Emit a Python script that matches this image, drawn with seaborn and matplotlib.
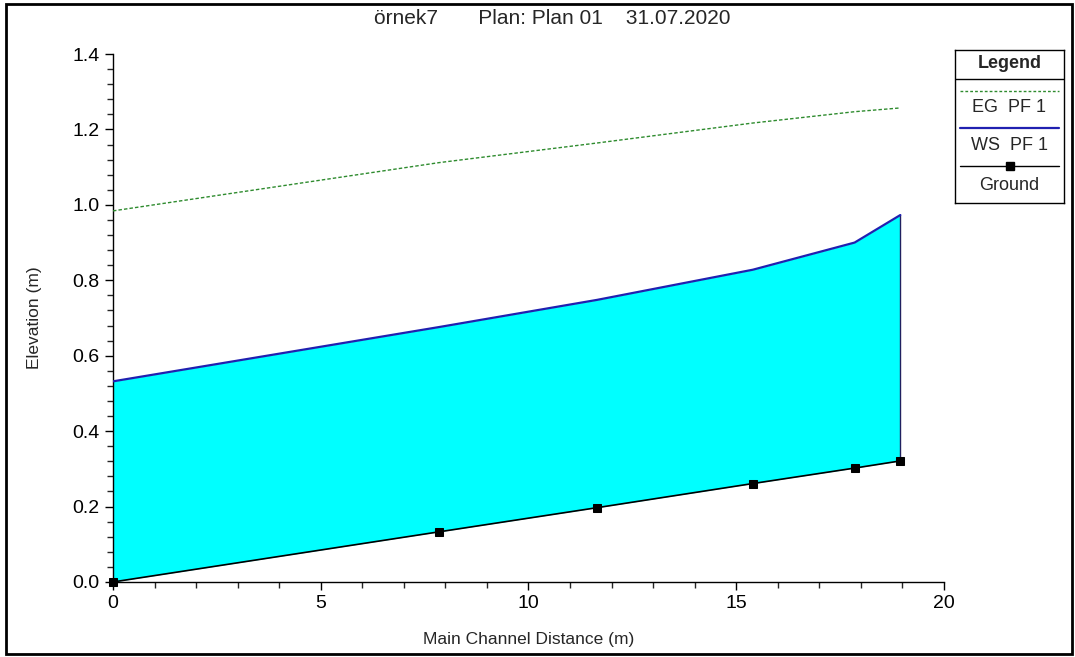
import numpy as np
import pandas as pd
import seaborn as sns
import matplotlib.pyplot as plt
from matplotlib.lines import Line2D
from matplotlib.patches import Rectangle
from matplotlib.ticker import MultipleLocator

# reach stations and profile values
distance = [0.0, 7.85, 11.65, 15.4, 17.85, 18.95]
ground = [0.0, 0.133, 0.197, 0.261, 0.302, 0.321]
ws_pf1 = [0.532, 0.676, 0.748, 0.828, 0.900, 0.973]
eg_pf1 = [0.984, 1.112, 1.164, 1.217, 1.247, 1.257]

title = "örnek7       Plan: Plan 01    31.07.2020"
legend_labels = ["EG  PF 1", "WS  PF 1", "Ground"]

df = pd.DataFrame({"dist": distance, "ground": ground, "ws": ws_pf1, "eg": eg_pf1})

sns.set_theme(style="ticks")
plt.rcParams['font.family'] = ['Liberation Sans', 'DejaVu Sans']

fig = plt.figure(figsize=(10.75, 6.57), dpi=100)
ax = fig.add_axes([0.1051, 0.1142, 0.7730, 0.8036])

# water area between ground and water surface
ax.fill_between(df["dist"], df["ground"], df["ws"], color="#00ffff", lw=0, zorder=1)
ax.plot([distance[-1], distance[-1]], [ground[-1], ws_pf1[-1]], color="#202060", lw=1, zorder=2)

sns.lineplot(data=df, x="dist", y="eg", ax=ax, color="#2e8b2e", lw=1,
             linestyle=(0, (2.5, 1.5)), zorder=3)
sns.lineplot(data=df, x="dist", y="ws", ax=ax, color="#2020b0", lw=1.6, zorder=3)
sns.lineplot(data=df, x="dist", y="ground", ax=ax, color="black", lw=1.2,
             marker="s", markersize=6, markeredgecolor="black", zorder=4, clip_on=False)

ax.set_xlim(0, 20)
ax.set_ylim(0, 1.4)
ax.xaxis.set_major_locator(MultipleLocator(5))
ax.xaxis.set_minor_locator(MultipleLocator(1))
ax.yaxis.set_major_locator(MultipleLocator(0.2))
ax.yaxis.set_minor_locator(MultipleLocator(0.04))
ax.yaxis.set_major_formatter(plt.FormatStrFormatter("%.1f"))
ax.tick_params(which="major", length=6, width=1, labelsize=14, colors="black")
ax.tick_params(which="minor", length=4, width=1)
for s in ["top", "right"]:
    ax.spines[s].set_visible(False)
for s in ["left", "bottom"]:
    ax.spines[s].set_color("black")
    ax.spines[s].set_linewidth(1)
ax.set_xlabel("Main Channel Distance (m)", fontsize=12.5, labelpad=14)
ax.set_ylabel("Elevation (m)", fontsize=12.5, labelpad=22)
ax.set_facecolor("white")
fig.text(0.514, 0.972, title, ha="center", va="center", fontsize=15)

# figure border
fig.patches.append(Rectangle((0.006, 0.005), 0.991, 0.989, transform=fig.transFigure,
                             fill=False, ec="black", lw=2))

# legend box drawn like the HEC-RAS style
lax = fig.add_axes([955 / 1075, 1 - 203 / 657, 109 / 1075, 153 / 657])
lax.set_xlim(0, 1)
lax.set_ylim(203, 50)
lax.set_xticks([])
lax.set_yticks([])
for s in lax.spines.values():
    s.set_color("black")
    s.set_linewidth(1)
lax.text(0.5, 64, "Legend", ha="center", va="center", fontsize=13, fontweight="bold")
lax.axhline(79, color="black", lw=1)
lax.add_line(Line2D([0.05, 0.95], [91, 91], color="#2e8b2e", lw=1, linestyle=(0, (2, 1.5))))
lax.text(0.5, 108, legend_labels[0], ha="center", va="center", fontsize=13)
lax.add_line(Line2D([0.05, 0.95], [128, 128], color="#2020b0", lw=1.6))
lax.text(0.5, 146, legend_labels[1], ha="center", va="center", fontsize=13)
lax.add_line(Line2D([0.05, 0.95], [166, 166], color="black", lw=1))
lax.add_line(Line2D([0.5], [166], color="black", marker="s", markersize=6, lw=0))
lax.text(0.5, 185, legend_labels[2], ha="center", va="center", fontsize=13)

fig.savefig("out.png", dpi=100, facecolor="white")
